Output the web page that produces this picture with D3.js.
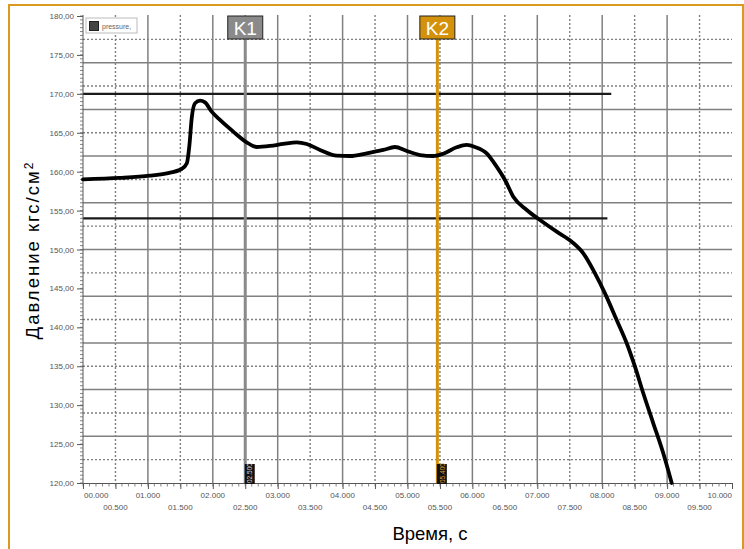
<!DOCTYPE html>
<html><head><meta charset="utf-8">
<script src="https://cdn.jsdelivr.net/npm/d3@7"></script>
<style>html,body{margin:0;padding:0;background:#fff;}svg{display:block;}</style>
</head><body>
<script>
// ---- data ----
const timeS = [0,0.57,1.03,1.29,1.52,1.60,1.64,1.675,1.726,1.803,1.88,1.983,2.111,2.316,2.522,2.676,2.881,3.086,3.293,3.447,3.652,3.909,4.114,4.371,4.627,4.807,4.988,5.193,5.398,5.552,5.758,5.912,6.04,6.22,6.374,6.502,6.63,6.837,7.042,7.299,7.53,7.709,7.889,8.043,8.223,8.378,8.505,8.633,8.787,8.941,9.071];
const pressure = [159.0,159.19,159.48,159.79,160.34,161.08,163.43,166.86,168.79,169.12,168.91,167.71,166.64,165.14,163.77,163.17,163.30,163.56,163.77,163.56,162.79,162.05,162.01,162.36,162.79,163.17,162.66,162.14,162.01,162.31,163.13,163.43,163.17,162.36,160.64,158.93,156.79,155.08,153.79,152.29,151.00,149.51,146.94,144.37,140.94,137.95,134.94,131.53,127.67,123.82,120.0];
const yTicks = [180,175,170,165,160,155,150,145,140,135,130,125,120];
const xTicksMain = [0,1,2,3,4,5,6,7,8,9,10];
const xTicksHalf = [0.5,1.5,2.5,3.5,4.5,5.5,6.5,7.5,8.5,9.5];
const limitValues = [170,154];
const limitEnds = [8.14,8.08];
const cursorNames = ["K1","K2"];
const cursorTimes = [2.5,5.46];
const cursorLabels = ["02.500","05.400"];
const cursorColors = ["#8a8a8a","#d4910b"];
const seriesName = "pressure,";

(function(){
const W=744,H=549;
const svg=d3.select("body").append("svg").attr("width",W).attr("height",H);
svg.append("rect").attr("width",W).attr("height",H).attr("fill","#fff");
svg.append("rect").attr("x",9).attr("y",5).attr("width",734).attr("height",560)
  .attr("fill","none").attr("stroke","#d99a1e").attr("stroke-width",2);

const x=d3.scaleLinear().domain([0,10]).range([83,732]);
const y=d3.scaleLinear().domain([120,180]).range([483,16]);
const topY=15;
const FF="Arial, Liberation Sans, sans-serif";

const g=svg.append("g");
const hSolid=d3.range(1,10).map(i=>180-6*i);
const hDot=d3.range(0,10).map(i=>177-6*i);
g.selectAll(".hs").data(hSolid).join("line")
 .attr("x1",x(0)).attr("x2",x(10)).attr("y1",d=>y(d)).attr("y2",d=>y(d))
 .attr("stroke","#808080").attr("stroke-width",1.5);
g.selectAll(".hd").data(hDot).join("line")
 .attr("x1",x(0)).attr("x2",x(10)).attr("y1",d=>y(d)).attr("y2",d=>y(d))
 .attr("stroke","#808080").attr("stroke-width",1.4).attr("stroke-dasharray","2,2");
g.selectAll(".vs").data(d3.range(1,10)).join("line")
 .attr("x1",d=>x(d)).attr("x2",d=>x(d)).attr("y1",topY).attr("y2",y(120))
 .attr("stroke","#808080").attr("stroke-width",1.5);
g.selectAll(".vd").data(xTicksHalf).join("line")
 .attr("x1",d=>x(d)).attr("x2",d=>x(d)).attr("y1",topY).attr("y2",y(120))
 .attr("stroke","#808080").attr("stroke-width",1.4).attr("stroke-dasharray","2,2");

svg.selectAll(".lim").data(limitValues).join("line")
 .attr("x1",x(0)).attr("x2",(d,i)=>x(limitEnds[i])).attr("y1",d=>y(d)).attr("y2",d=>y(d))
 .attr("stroke","#1a1a1a").attr("stroke-width",2.2);

const yAx=svg.append("g").attr("transform",`translate(${x(0)},0)`)
 .call(d3.axisLeft(y).tickValues(yTicks).tickSize(6).tickFormat(d=>d3.format(".2f")(d).replace(".",",")));
yAx.select(".domain").attr("stroke","#555").attr("d",`M0,${topY}V${y(120)}`);
yAx.selectAll(".tick line").attr("stroke","#555");
yAx.selectAll("text").attr("font-family",FF).attr("font-size",8).attr("fill","#555").attr("x",-9);
svg.append("g").selectAll("line").data(d3.range(120,180.01,0.5)).join("line")
 .attr("x1",x(0)-3).attr("x2",x(0)).attr("y1",d=>y(d)).attr("y2",d=>y(d)).attr("stroke","#666").attr("stroke-width",0.8);

const xAx=svg.append("g").attr("transform",`translate(0,${y(120)})`)
 .call(d3.axisBottom(x).tickValues(d3.range(0,10.01,0.5)).tickSize(6).tickFormat(""));
xAx.select(".domain").attr("stroke","#555");
xAx.selectAll(".tick line").attr("stroke","#555");
svg.append("g").selectAll("line").data(d3.range(0,100).map(i=>i/10)).join("line")
 .attr("x1",d=>x(d)).attr("x2",d=>x(d)).attr("y1",y(120)).attr("y2",y(120)+3.5).attr("stroke","#666").attr("stroke-width",0.8);
const fmtT=d=>{const s=d.toFixed(3);return (d<10?"0":"")+s;};
svg.append("g").selectAll("text").data(xTicksMain).join("text")
 .attr("x",d=>d===0?x(d)+1:x(d))
 .attr("y",498).attr("text-anchor",d=>d===0?"start":(d===10?"end":"middle"))
 .attr("font-family",FF).attr("font-size",8).attr("fill","#555").text(fmtT);
svg.append("g").selectAll("text").data(xTicksHalf).join("text")
 .attr("x",d=>x(d)).attr("y",510).attr("text-anchor","middle")
 .attr("font-family",FF).attr("font-size",8).attr("fill","#555").text(fmtT);

cursorTimes.forEach((t,i)=>{
  const cx=x(t);
  svg.append("line").attr("x1",cx).attr("x2",cx).attr("y1",38).attr("y2",y(120))
    .attr("stroke",cursorColors[i]).attr("stroke-width",3);
  svg.append("rect").attr("x",cx-17.5).attr("y",16).attr("width",35).attr("height",23)
    .attr("fill",cursorColors[i]).attr("stroke","#222").attr("stroke-width",1);
  svg.append("text").attr("x",cx).attr("y",34.5).attr("text-anchor","middle")
    .attr("font-family",FF).attr("font-size",19).attr("fill","#fff").text(cursorNames[i]);
  svg.append("rect").attr("x",cx-0.5).attr("y",464).attr("width",10).attr("height",20).attr("fill","#111");
  svg.append("text").attr("transform",`translate(${cx+7.2},483) rotate(-90)`)
    .attr("font-family",FF).attr("font-size",6.5)
    .attr("fill",i===0?"#ddd":"#e0a030").text(cursorLabels[i]);
});

const line=d3.line().x((d,i)=>x(timeS[i])).y(d=>y(d)).curve(d3.curveMonotoneX);
svg.append("path").datum(pressure).attr("d",line).attr("fill","none")
 .attr("stroke","#000").attr("stroke-width",3.8).attr("stroke-linejoin","round").attr("stroke-linecap","round");

svg.append("rect").attr("x",86).attr("y",18).attr("width",51).attr("height",15).attr("fill","#fff").attr("stroke","#bbb");
svg.append("rect").attr("x",89.5).attr("y",21.5).attr("width",9).attr("height",9).attr("fill","#444").attr("stroke","#222");
svg.append("text").attr("x",102).attr("y",29).attr("font-family",FF).attr("font-size",7).attr("fill","#666").text(seriesName);

svg.append("text").attr("transform","translate(39,250) rotate(-90)").attr("text-anchor","middle")
 .attr("font-family",FF).attr("font-size",18.5).attr("letter-spacing",2).attr("fill","#000")
 .html('Давление кгс/см<tspan dy="-6" font-size="12">2</tspan>');
svg.append("text").attr("x",430).attr("y",540).attr("text-anchor","middle")
 .attr("font-family",FF).attr("font-size",18.5).attr("fill","#000").text("Время, с");
})();
</script>
</body></html>
